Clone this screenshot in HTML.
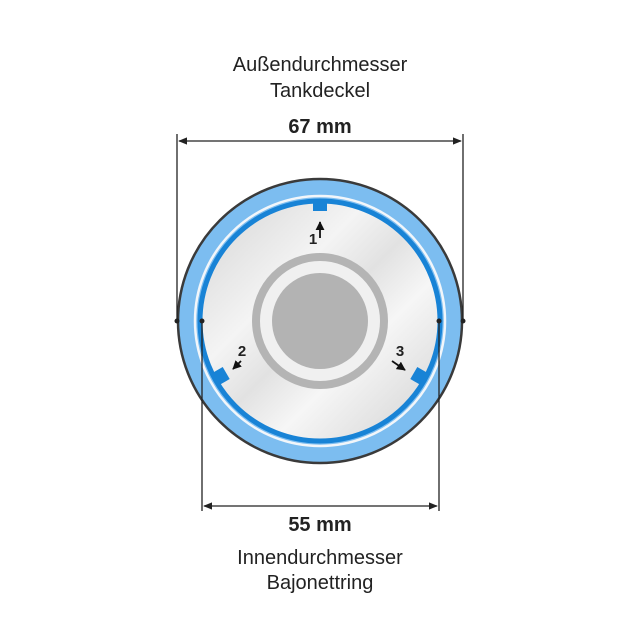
<!DOCTYPE html>
<html><head><style>
body{margin:0;background:#fff;}
svg{display:block;}
text{font-family:"Liberation Sans",sans-serif;fill:#222;text-anchor:middle;}
</style></head><body>
<svg width="640" height="640" viewBox="0 0 640 640">
<defs>
<linearGradient id="g" x1="0" y1="0" x2="1" y2="1">
<stop offset="0" stop-color="#d4d4d4"/><stop offset="0.35" stop-color="#f4f4f4"/>
<stop offset="0.5" stop-color="#e2e2e2"/><stop offset="0.65" stop-color="#f6f6f6"/><stop offset="1" stop-color="#d0d0d0"/>
</linearGradient>
<marker id="a" viewBox="0 0 10 10" refX="9" refY="5" markerWidth="7" markerHeight="7" orient="auto-start-reverse"><path d="M0,1L10,5L0,9z" fill="#222"/></marker>
<marker id="b" viewBox="0 0 10 10" refX="9" refY="5" markerWidth="5" markerHeight="5" orient="auto"><path d="M0,0L10,5L0,10z" fill="#111"/></marker>
</defs>
<text x="320" y="71" font-size="20">Außendurchmesser</text>
<text x="320" y="97" font-size="20">Tankdeckel</text>
<text x="320" y="133" font-size="20" font-weight="bold">67 mm</text>
<circle cx="320" cy="321" r="142" fill="#7cbdf0" stroke="#3a3a3a" stroke-width="2.5"/>
<circle cx="320" cy="321" r="125" fill="none" stroke="#f2f6fa" stroke-width="2.5"/>
<circle cx="320" cy="321" r="120" fill="url(#g)" stroke="#1883d6" stroke-width="5"/>
<rect x="313" y="199" width="14" height="12" fill="#1883d6"/>
<rect x="-7" y="-6" width="14" height="12" fill="#1883d6" transform="translate(221,376) rotate(60)"/>
<rect x="-7" y="-6" width="14" height="12" fill="#1883d6" transform="translate(419,376) rotate(-60)"/>
<circle cx="320" cy="321" r="64" fill="#f0f0f0" stroke="#b4b4b4" stroke-width="8"/>
<circle cx="320" cy="321" r="48" fill="#b3b3b3"/>
<text x="313" y="244" font-size="15" font-weight="bold">1</text>
<line x1="320" y1="238" x2="320" y2="222" stroke="#111" stroke-width="1.8" marker-end="url(#b)"/>
<text x="242" y="356" font-size="15" font-weight="bold">2</text>
<line x1="241" y1="361" x2="233" y2="369" stroke="#111" stroke-width="1.8" marker-end="url(#b)"/>
<text x="400" y="356" font-size="15" font-weight="bold">3</text>
<line x1="392" y1="361" x2="405" y2="370" stroke="#111" stroke-width="1.8" marker-end="url(#b)"/>
<g stroke="#222" stroke-width="1.3" fill="none">
<line x1="177" y1="134" x2="177" y2="321"/><line x1="463" y1="134" x2="463" y2="321"/>
<line x1="179" y1="141" x2="461" y2="141" marker-start="url(#a)" marker-end="url(#a)"/>
<line x1="202" y1="321" x2="202" y2="511"/><line x1="439" y1="321" x2="439" y2="511"/>
<line x1="204" y1="506" x2="437" y2="506" marker-start="url(#a)" marker-end="url(#a)"/>
</g>
<g fill="#222"><circle cx="177" cy="321" r="2.5"/><circle cx="463" cy="321" r="2.5"/><circle cx="202" cy="321" r="2.5"/><circle cx="439" cy="321" r="2.5"/></g>
<text x="320" y="531" font-size="20" font-weight="bold">55 mm</text>
<text x="320" y="564" font-size="20">Innendurchmesser</text>
<text x="320" y="589" font-size="20">Bajonettring</text>
</svg>
</body></html>
